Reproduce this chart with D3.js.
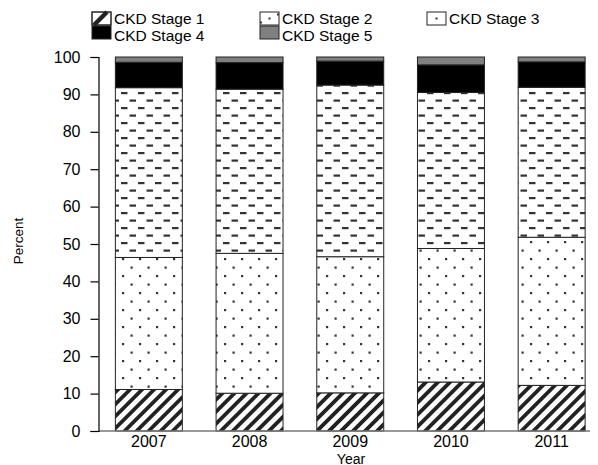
<!DOCTYPE html>
<html>
<head>
<meta charset="utf-8">
<script src="https://cdn.jsdelivr.net/npm/d3@7"></script>
<style>
    body { margin: 0; background: #fff; }
    svg { font-family: "Liberation Sans", Arial, Helvetica, sans-serif; }
</style>
</head>
<body>
<svg id="chart" width="598" height="465"></svg>
<script>
// values (percent of patients per CKD stage)
const years = ["2007", "2008", "2009", "2010", "2011"];
const stage1 = [11.1, 10.1, 10.2, 13.1, 12.2];
const stage2 = [35.3, 37.4, 36.4, 35.7, 39.6];
const stage3 = [45.4, 43.9, 45.9, 41.7, 40.1];
const stage4 = [6.8, 7.1, 6.4, 7.4, 6.8];
const stage5 = [1.4, 1.5, 1.1, 2.1, 1.3];
const stageNames = ["CKD Stage 1", "CKD Stage 2", "CKD Stage 3", "CKD Stage 4", "CKD Stage 5"];
const yTicks = [0, 10, 20, 30, 40, 50, 60, 70, 80, 90, 100];

const width = 598, height = 465;
const margin = {top: 57, right: -4, bottom: 34, left: 98.5};
const font = "Liberation Sans, Arial, sans-serif";

const svg = d3.select("#chart");
const defs = svg.append("defs");

// Fill patterns
const hatch = defs.append("pattern")
    .attr("id", "p1")
    .attr("patternUnits", "userSpaceOnUse")
    .attr("width", 8.5).attr("height", 8.5)
    .attr("patternTransform", "rotate(45)");
hatch.append("rect").attr("width", 8.5).attr("height", 8.5).attr("fill", "#fff");
hatch.append("rect").attr("x", 0).attr("width", 3.8).attr("height", 8.5).attr("fill", "#222");

const dots = defs.append("pattern")
    .attr("id", "p2")
    .attr("patternUnits", "userSpaceOnUse")
    .attr("width", 17).attr("height", 17);
dots.append("rect").attr("width", 17).attr("height", 17).attr("fill", "#fff");
dots.append("rect").attr("x", 3).attr("y", 3).attr("width", 2.2).attr("height", 2.2).attr("fill", "#333");
dots.append("rect").attr("x", 11.5).attr("y", 11.5).attr("width", 2.2).attr("height", 2.2).attr("fill", "#333");

const dashes = defs.append("pattern")
    .attr("id", "p3")
    .attr("patternUnits", "userSpaceOnUse")
    .attr("width", 17).attr("height", 15);
dashes.append("rect").attr("width", 17).attr("height", 15).attr("fill", "#fff");
dashes.append("rect").attr("x", 2).attr("y", 2).attr("width", 6.5).attr("height", 2.2).attr("fill", "#333");
dashes.append("rect").attr("x", 10.5).attr("y", 9.5).attr("width", 6.5).attr("height", 2.2).attr("fill", "#333");

const fills = ["url(#p1)", "url(#p2)", "url(#p3)", "#000", "#808080"];

// Stack the series
const table = years.map((yr, i) => ({
    year: yr,
    s0: stage1[i], s1: stage2[i], s2: stage3[i], s3: stage4[i], s4: stage5[i]
}));
const series = d3.stack().keys(["s0", "s1", "s2", "s3", "s4"])(table);

const x = d3.scaleBand()
    .domain(years)
    .range([margin.left, width - margin.right])
    .paddingInner(0.335)
    .paddingOuter(0.1675);

const y = d3.scaleLinear()
    .domain([0, 100])
    .range([height - margin.bottom, margin.top]);

// Bars
svg.append("g")
    .selectAll("g")
    .data(series)
    .join("g")
    .attr("fill", (d, i) => fills[i])
    .selectAll("rect")
    .data(d => d)
    .join("rect")
    .attr("x", d => x(d.data.year))
    .attr("y", d => y(d[1]))
    .attr("width", x.bandwidth())
    .attr("height", d => y(d[0]) - y(d[1]))
    .attr("stroke", "#222")
    .attr("stroke-width", 1);

// Baseline
svg.append("line")
    .attr("x1", margin.left).attr("x2", 590)
    .attr("y1", y(0)).attr("y2", y(0))
    .attr("stroke", "#777").attr("stroke-width", 1.5);

// y-axis
const yAxis = svg.append("g")
    .attr("transform", `translate(${margin.left},0)`)
    .call(d3.axisLeft(y).tickValues(yTicks).tickSize(8).tickPadding(10));
yAxis.select(".domain").attr("stroke", "#000").attr("stroke-width", 1.2);
yAxis.selectAll(".tick line").attr("stroke", "#000").attr("stroke-width", 1.2);
yAxis.selectAll("text")
    .attr("fill", "#000")
    .style("font-size", "16px")
    .style("font-family", font);

// x-axis labels
const xAxis = svg.append("g")
    .attr("transform", `translate(0,${y(0)})`)
    .call(d3.axisBottom(x).tickSize(0).tickPadding(5));
xAxis.select(".domain").remove();
xAxis.selectAll("text")
    .attr("fill", "#000")
    .style("font-size", "16px")
    .style("font-family", font);

// Axis titles
svg.append("text")
    .attr("x", 351).attr("y", 463.5)
    .attr("text-anchor", "middle")
    .style("font-size", "14px")
    .text("Year");

svg.append("text")
    .attr("transform", "translate(23,241) rotate(-90)")
    .attr("text-anchor", "middle")
    .style("font-size", "13.5px")
    .text("Percent");

// Legend
const legendPos = [
    {x: 92, y: 12, ty: 24}, {x: 260, y: 12, ty: 24}, {x: 427, y: 12, ty: 24},
    {x: 92, y: 26, ty: 40.5}, {x: 260, y: 26, ty: 40.5}
];
const legend = svg.append("g")
    .selectAll("g")
    .data(stageNames)
    .join("g")
    .attr("transform", (d, i) => `translate(${legendPos[i].x},${legendPos[i].y})`);

legend.append("rect")
    .attr("width", 19).attr("height", 13)
    .attr("fill", (d, i) => i < 3 ? "#fff" : fills[i])
    .attr("stroke", "#222").attr("stroke-width", 1);

// small glyphs inside the patterned swatches
legend.filter((d, i) => i === 0).append("path")
    .attr("d", "M2,13 L15,0")
    .attr("stroke", "#222").attr("stroke-width", 4.5);
legend.filter((d, i) => i === 0).append("rect")
    .attr("width", 19).attr("height", 13)
    .attr("fill", "none").attr("stroke", "#222").attr("stroke-width", 1);
legend.filter((d, i) => i === 1 || i === 2).append("rect")
    .attr("x", 8.5).attr("y", 5.5).attr("width", 2).attr("height", 2).attr("fill", "#333");
legend.filter((d, i) => i === 1).append("rect")
    .attr("x", 0).attr("y", 9.5).attr("width", 2).attr("height", 2).attr("fill", "#333");
legend.filter((d, i) => i === 1).append("rect")
    .attr("x", 17).attr("y", 1.5).attr("width", 2).attr("height", 2).attr("fill", "#333");

legend.append("text")
    .attr("x", 22)
    .attr("y", (d, i) => legendPos[i].ty - legendPos[i].y)
    .style("font-size", "15.5px")
    .text(d => d);
</script>
</body>
</html>
